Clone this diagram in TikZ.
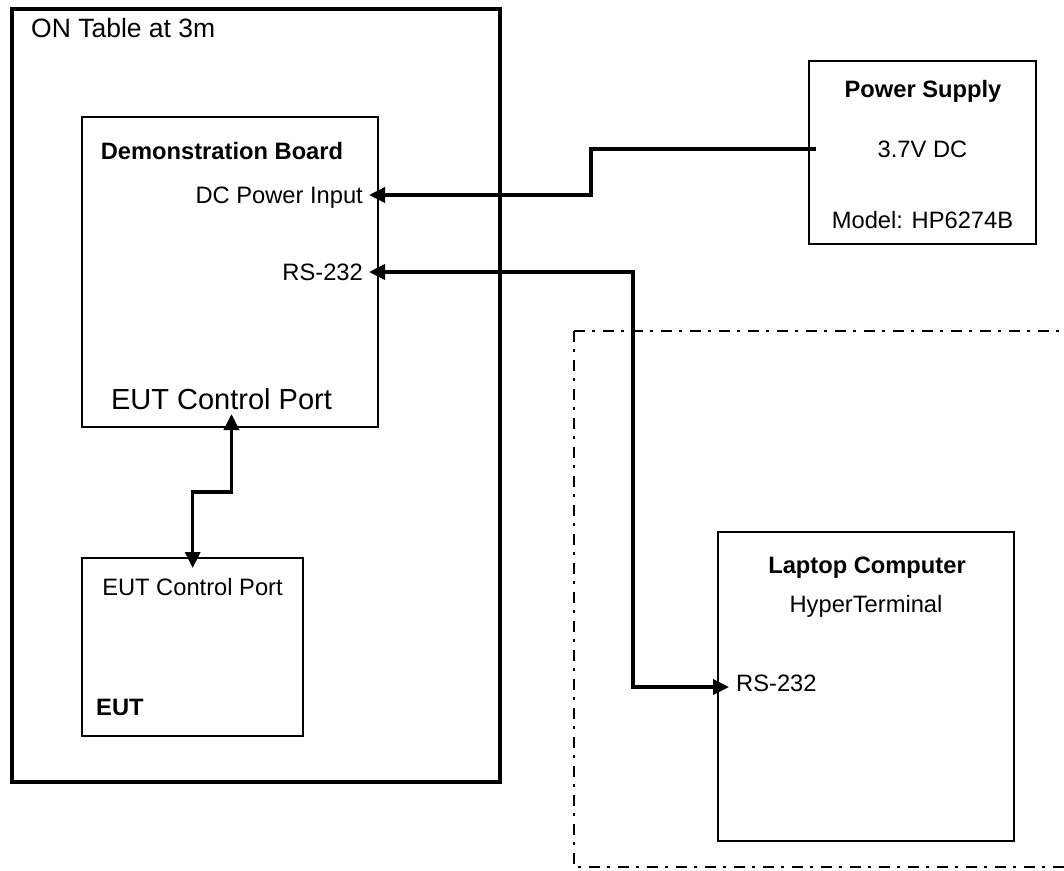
\documentclass[tikz,border=0pt]{standalone}
\usepackage{fontspec}
\setmainfont{Liberation Sans}
\usetikzlibrary{arrows.meta}
\begin{document}
\begin{tikzpicture}[x=1pt,y=-1pt,
  box/.style={draw, line width=1.7pt, inner sep=0pt, anchor=north west},
  txt/.style={font=\fontsize{23.7}{28}\selectfont, inner sep=0pt},
  btxt/.style={font=\fontsize{23.7}{28}\selectfont\bfseries, inner sep=0pt},
  bigtxt/.style={font=\fontsize{26.5}{30}\selectfont, inner sep=0pt},
  conn/.style={line width=3.5pt, line join=miter},
  arr/.tip={Triangle[length=16pt 0 0,width=15pt 0 0]},
  tip/.style={-arr},
  tips/.style={arr-arr},
  dashdot/.style={line width=2pt, dash pattern=on 11pt off 7pt on 3pt off 8pt}
]
\useasboundingbox (0,0) rectangle (1064,870);
\fill[white] (0,0) rectangle (1064,870);

% boxes
\node[box, line width=3.5pt, minimum width=488pt, minimum height=773pt] (table) at (10,7) {};
\node[box, minimum width=296pt, minimum height=310pt] (demo) at (81,116) {};
\node[box, minimum width=221pt, minimum height=178pt] (eut) at (81,557) {};
\node[box, line width=2pt, minimum width=227pt, minimum height=183pt] (ps) at (808,60) {};
\node[box, line width=2pt, minimum width=296pt, minimum height=309pt] (laptop) at (717,531) {};

% dash-dot area
\coordinate (dd) at (574,331);
\draw[dashdot] (dd) -- (1070,331);
\draw[dashdot] (dd) -- (574,867) -- (1070,867);

% texts
\node[bigtxt, anchor=base west] (tabletitle) at (31,37) {ON Table at 3m};
\node[btxt, anchor=base] (demotitle) at (222,159) {Demonstration Board};
\node[txt, anchor=base east] (dcin) at (363,203.5) {DC Power Input};
\node[txt, anchor=base east] (demors) at (363,280.5) {RS-232};
\node[font=\fontsize{29}{33}\selectfont, inner sep=0pt, anchor=base] (democtl) at (221.5,409) {EUT Control Port};
\node[txt, anchor=base] (eutctl) at (192.5,595) {EUT Control Port};
\node[btxt, anchor=base west] (euttitle) at (96,715) {EUT};
\node[btxt, anchor=base] (pstitle) at (923,97) {Power Supply};
\node[txt, anchor=base] (psv) at (922.5,157) {3.7V DC};
\node[txt, anchor=base] (psmodel) at (922.5,228) {Model: HP6274B};
\node[btxt, anchor=base] (laptitle) at (867,573) {Laptop Computer};
\node[txt, anchor=base] (lapht) at (866,612) {HyperTerminal};
\node[txt, anchor=base west] (laprs) at (736,691) {RS-232};

% port points
\coordinate (psout) at (816,149);
\coordinate (dcinpt) at (369,195);
\coordinate (demorspt) at (369,272);
\coordinate (laprspt) at (729,687);
\coordinate (demoport) at (231.5,414);
\coordinate (eutport) at (192.7,568);

% connectors
\draw[conn, tip] (psout) -- ++(-225,0) |- (dcinpt);
\draw[conn, tips] (demorspt) -- ++(264,0) |- (laprspt);
\draw[conn, tips] (demoport) -- ++(0,78) -| (eutport);
\end{tikzpicture}
\end{document}
